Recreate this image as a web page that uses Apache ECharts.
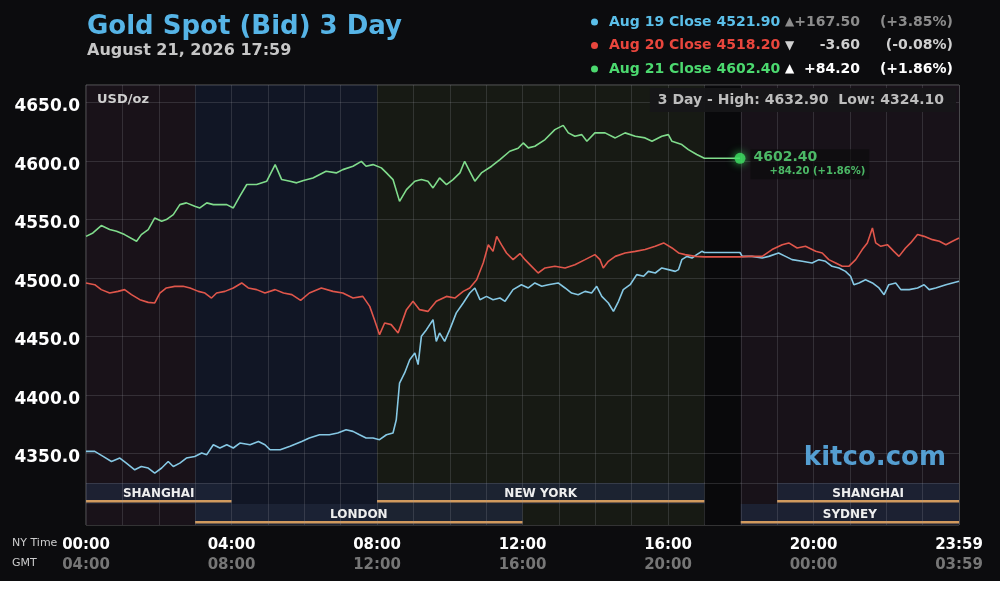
<!DOCTYPE html>
<html>
<head>
<meta charset="utf-8">
<script src="https://cdn.jsdelivr.net/npm/echarts@6/dist/echarts.min.js"></script>
<style>
html, body { margin: 0; padding: 0; background: #ffffff; }
#chart { width: 1000px; height: 581px; }
</style>
</head>
<body>
<div id="chart"></div>
<script>
// price in USD/oz, x = NY time in hours
const aug19 = [[0.00,4352.0],[0.24,4352.0],[0.47,4347.7],[0.70,4343.4],[0.93,4346.3],[1.11,4342.0],[1.34,4336.3],[1.52,4339.1],[1.71,4337.8],[1.89,4333.5],[2.08,4337.8],[2.26,4343.4],[2.40,4339.1],[2.58,4342.0],[2.76,4346.3],[2.99,4347.7],[3.18,4350.6],[3.32,4349.2],[3.50,4357.7],[3.68,4354.9],[3.87,4357.7],[4.05,4354.9],[4.23,4359.1],[4.51,4357.7],[4.74,4360.5],[4.92,4357.7],[5.06,4353.4],[5.34,4353.4],[5.61,4356.3],[5.93,4360.5],[6.14,4363.4],[6.42,4366.2],[6.69,4366.2],[6.92,4367.7],[7.15,4370.5],[7.34,4369.1],[7.52,4366.2],[7.70,4363.4],[7.89,4363.4],[8.07,4362.0],[8.26,4366.2],[8.44,4367.7],[8.53,4379.0],[8.62,4410.4],[8.76,4419.0],[8.90,4430.3],[9.04,4436.1],[9.13,4426.1],[9.22,4450.3],[9.36,4456.0],[9.54,4464.5],[9.63,4446.0],[9.72,4453.2],[9.86,4446.0],[10.00,4456.0],[10.18,4470.3],[10.37,4478.8],[10.55,4487.3],[10.69,4491.6],[10.83,4481.6],[11.01,4484.4],[11.19,4481.6],[11.38,4483.0],[11.52,4480.2],[11.74,4490.2],[11.97,4494.4],[12.16,4491.6],[12.34,4495.9],[12.53,4493.0],[12.71,4494.4],[12.98,4495.9],[13.17,4491.6],[13.35,4487.3],[13.53,4485.9],[13.72,4488.7],[13.90,4487.3],[14.04,4493.0],[14.18,4484.4],[14.36,4478.8],[14.50,4471.6],[14.64,4480.2],[14.77,4490.2],[14.96,4494.4],[15.14,4503.0],[15.33,4501.6],[15.46,4505.8],[15.65,4504.4],[15.83,4508.7],[16.01,4507.3],[16.20,4505.8],[16.29,4507.3],[16.38,4515.8],[16.52,4518.6],[16.66,4517.2],[16.79,4520.1],[16.93,4522.9],[17.00,4521.9],[17.98,4521.9],[18.00,4522.9],[18.04,4518.6],[18.31,4518.6],[18.59,4517.2],[18.77,4518.6],[19.04,4521.5],[19.23,4518.6],[19.41,4515.8],[19.69,4514.4],[19.96,4513.0],[20.15,4515.8],[20.33,4514.4],[20.51,4510.1],[20.70,4508.7],[20.88,4505.8],[21.02,4501.6],[21.11,4494.4],[21.25,4495.9],[21.43,4498.7],[21.62,4495.9],[21.80,4491.6],[21.94,4485.9],[22.07,4494.4],[22.26,4495.9],[22.40,4490.2],[22.63,4490.2],[22.86,4491.6],[23.04,4494.4],[23.18,4490.2],[23.36,4491.6],[23.64,4494.4],[23.82,4495.9],[24.00,4497.3]];

const aug20 = [[0.00,4495.9],[0.24,4494.4],[0.42,4490.2],[0.65,4487.3],[0.88,4488.7],[1.06,4490.2],[1.25,4485.9],[1.48,4481.6],[1.71,4479.3],[1.89,4478.8],[2.03,4487.3],[2.21,4491.6],[2.44,4493.0],[2.67,4493.0],[2.86,4491.6],[3.09,4488.7],[3.27,4487.3],[3.45,4483.0],[3.59,4487.3],[3.82,4488.7],[4.05,4491.6],[4.28,4495.9],[4.46,4491.6],[4.69,4490.2],[4.92,4487.3],[5.20,4490.2],[5.43,4487.3],[5.66,4485.9],[5.90,4481.0],[6.14,4487.3],[6.47,4491.6],[6.79,4488.7],[7.06,4487.3],[7.34,4483.0],[7.61,4484.4],[7.80,4475.9],[7.93,4464.5],[8.07,4451.7],[8.21,4461.7],[8.39,4460.3],[8.58,4453.2],[8.81,4473.1],[8.99,4480.2],[9.17,4473.1],[9.40,4471.6],[9.63,4480.2],[9.91,4484.4],[10.14,4483.0],[10.37,4488.7],[10.55,4491.6],[10.74,4498.7],[10.92,4513.0],[11.06,4528.6],[11.19,4522.9],[11.29,4535.7],[11.42,4528.6],[11.56,4521.5],[11.74,4515.8],[11.93,4521.0],[12.07,4515.8],[12.25,4510.1],[12.43,4504.4],[12.62,4508.7],[12.89,4510.1],[13.17,4508.7],[13.44,4511.5],[13.72,4515.8],[13.99,4520.1],[14.13,4515.8],[14.22,4508.7],[14.36,4514.4],[14.55,4518.6],[14.82,4521.5],[15.10,4522.9],[15.37,4524.4],[15.65,4527.2],[15.88,4530.1],[16.11,4525.8],[16.29,4521.5],[16.47,4520.1],[16.75,4518.6],[17.00,4518.2],[17.98,4518.2],[18.22,4518.6],[18.59,4518.6],[18.86,4524.4],[19.14,4528.6],[19.32,4530.1],[19.55,4525.8],[19.78,4527.2],[20.06,4522.9],[20.24,4521.5],[20.42,4515.8],[20.61,4513.0],[20.79,4510.1],[20.97,4510.1],[21.16,4515.8],[21.34,4524.4],[21.48,4530.1],[21.62,4542.9],[21.71,4530.1],[21.85,4527.2],[22.03,4528.6],[22.21,4522.9],[22.35,4518.6],[22.53,4525.8],[22.67,4530.1],[22.86,4537.2],[23.04,4535.7],[23.27,4532.9],[23.46,4531.5],[23.64,4528.6],[23.82,4531.5],[24.00,4534.3]];

const aug21 = [[0.00,4535.7],[0.19,4538.6],[0.42,4544.9],[0.65,4541.5],[0.84,4540.0],[1.06,4537.2],[1.39,4531.5],[1.52,4537.2],[1.71,4541.5],[1.89,4551.4],[2.08,4548.6],[2.21,4550.0],[2.40,4554.3],[2.58,4562.8],[2.76,4564.3],[2.99,4561.4],[3.13,4560.0],[3.32,4564.3],[3.50,4562.8],[3.68,4562.8],[3.87,4562.8],[4.05,4560.0],[4.23,4570.0],[4.42,4580.0],[4.69,4580.0],[4.97,4582.8],[5.20,4597.0],[5.38,4584.2],[5.61,4582.8],[5.79,4581.4],[5.98,4583.5],[6.24,4585.6],[6.60,4591.3],[6.88,4589.9],[7.06,4592.7],[7.34,4595.6],[7.57,4599.8],[7.70,4595.6],[7.89,4597.0],[8.12,4594.2],[8.26,4589.9],[8.44,4584.2],[8.62,4565.6],[8.81,4575.6],[9.04,4582.8],[9.22,4584.2],[9.40,4582.8],[9.54,4577.1],[9.72,4585.6],[9.91,4579.9],[10.09,4584.2],[10.28,4589.9],[10.41,4599.8],[10.55,4591.3],[10.69,4582.8],[10.87,4589.9],[11.15,4595.6],[11.38,4601.3],[11.65,4608.4],[11.88,4611.0],[12.02,4615.5],[12.16,4611.3],[12.34,4612.7],[12.62,4618.4],[12.89,4626.9],[13.12,4630.5],[13.26,4624.1],[13.44,4621.2],[13.63,4622.6],[13.77,4616.9],[13.99,4624.1],[14.27,4624.1],[14.55,4619.8],[14.82,4624.1],[15.10,4621.2],[15.37,4619.8],[15.56,4616.9],[15.83,4621.2],[16.01,4622.6],[16.11,4616.9],[16.38,4614.1],[16.56,4609.8],[16.79,4605.6],[17.00,4602.4],[17.98,4602.4]];

const seriesNames = ['Aug 19', 'Aug 20', 'Aug 21'];
const closes = [4521.90, 4518.20, 4602.40];
const changes = [167.50, -3.60, 84.20];
const changePcts = [3.85, -0.08, 1.86];
const threeDayHigh = 4632.90;
const threeDayLow = 4324.10;

const hourTicks = [0, 4, 8, 12, 16, 20, 24];
const nyLabels = ['00:00', '04:00', '08:00', '12:00', '16:00', '20:00', '23:59'];
const gmtLabels = ['04:00', '08:00', '12:00', '16:00', '20:00', '00:00', '03:59'];

// trading sessions (row 0 = upper strip, row 1 = lower strip)
const sessionNames = ['SHANGHAI', 'NEW YORK', 'SHANGHAI', 'LONDON', 'SYDNEY'];
const sessionStart = [0, 8, 19, 3, 18];
const sessionEnd = [4, 17, 24, 12, 24];
const sessionRow = [0, 0, 0, 1, 1];

// background bands
const bandStart = [0, 3, 8, 17, 18];
const bandEnd = [3, 8, 17, 18, 24];

const FONT = 'DejaVu Sans';
const lineColors = ['#86c8e4', '#e0564b', '#80dc8c'];
const dotColors = ['#5bbfe9', '#e9463d', '#4cd96f'];
const bandColors = ['#191219', '#111625', '#171a14', '#09090b', '#181219'];
const gridColor = 'rgba(150,150,160,0.22)';

function signed(v) {
    return (v >= 0 ? '+' : '') + v.toFixed(2);
}

let chart = echarts.init(document.getElementById('chart'));

let bandAreas = bandStart.map(function (s, i) {
    return [{ xAxis: s, itemStyle: { color: bandColors[i] } }, { xAxis: bandEnd[i] }];
});

let legendRich = {};
[0, 1, 2].forEach(function (i) {
    let other = ['#8c8c8c', '#d0d0d0', '#ffffff'][i];
    legendRich['n' + i] = { color: dotColors[i], fontFamily: FONT, fontWeight: 'bold', fontSize: 14, width: 176 };
    legendRich['a' + i] = { color: other, fontFamily: FONT, fontSize: 12, width: 14 };
    legendRich['c' + i] = { color: other, fontFamily: FONT, fontWeight: 'bold', fontSize: 14, width: 61, align: 'right' };
    legendRich['p' + i] = { color: other, fontFamily: FONT, fontWeight: 'bold', fontSize: 14, width: 93, align: 'right' };
});

let lineSeries = [aug19, aug20, aug21].map(function (d, i) {
    let s = {
        name: seriesNames[i],
        type: 'line',
        xAxisIndex: 0,
        yAxisIndex: 0,
        data: d,
        showSymbol: false,
        symbol: 'circle',
        z: 5,
        itemStyle: { color: dotColors[i] },
        lineStyle: { color: lineColors[i], width: 1.6 }
    };
    if (i == 0) {
        s.markArea = { silent: true, data: bandAreas };
    }
    return s;
});

let last = aug21[aug21.length - 1];

chart.setOption({
    backgroundColor: '#0c0c0e',
    animation: false,
    title: {
        text: 'Gold Spot (Bid) 3 Day',
        subtext: 'August 21, 2026 17:59',
        left: 82,
        top: 9,
        itemGap: 3,
        textStyle: { color: '#56b4e6', fontFamily: FONT, fontWeight: 'bold', fontSize: 26 },
        subtextStyle: { color: '#c6c6c6', fontFamily: FONT, fontWeight: 'bold', fontSize: 16 }
    },
    legend: {
        data: seriesNames,
        orient: 'vertical',
        left: 586,
        top: 10,
        icon: 'circle',
        itemWidth: 7,
        itemHeight: 7,
        itemGap: 9.5,
        selectedMode: false,
        formatter: function (name) {
            let i = seriesNames.indexOf(name);
            return '{n' + i + '|' + name + ' Close ' + closes[i].toFixed(2) + '}' +
                '{a' + i + '|' + (changes[i] >= 0 ? '▲' : '▼') + '}' +
                '{c' + i + '|' + signed(changes[i]) + '}' +
                '{p' + i + '|(' + signed(changePcts[i]) + '%)}';
        },
        textStyle: { padding: [0, 0, 0, 6], rich: legendRich }
    },
    grid: [
        { left: 86, right: 41, top: 85, height: 398, show: true, borderColor: '#5a5a5a', borderWidth: 1 },
        { left: 86, right: 41, top: 483, height: 42, show: true, borderColor: '#5a5a5a', borderWidth: 1 }
    ],
    xAxis: [
        {
            gridIndex: 0, type: 'value', min: 0, max: 24, interval: 4, z: 3,
            axisLabel: { show: false }, axisTick: { show: false }, axisLine: { show: false },
            splitLine: { show: true, lineStyle: { color: gridColor } },
            minorTick: { show: false, splitNumber: 4 },
            minorSplitLine: { show: true, lineStyle: { color: gridColor } }
        },
        {
            gridIndex: 1, type: 'value', min: 0, max: 24, interval: 4, z: 3,
            axisTick: { show: false }, axisLine: { show: false },
            splitLine: { show: true, lineStyle: { color: gridColor } },
            minorTick: { show: false, splitNumber: 4 },
            minorSplitLine: { show: true, lineStyle: { color: gridColor } },
            axisLabel: {
                margin: 10,
                showMinLabel: true,
                showMaxLabel: true,
                formatter: function (v) {
                    let i = hourTicks.indexOf(v);
                    return '{ny|' + nyLabels[i] + '}\n{gmt|' + gmtLabels[i] + '}';
                },
                rich: {
                    ny: { color: '#ffffff', fontFamily: FONT, fontWeight: 'bold', fontSize: 15, lineHeight: 20 },
                    gmt: { color: '#767676', fontFamily: FONT, fontWeight: 'bold', fontSize: 15, lineHeight: 20 }
                }
            }
        }
    ],
    yAxis: [
        {
            gridIndex: 0, type: 'value', min: 4325, max: 4665, splitNumber: 7, z: 3,
            axisLine: { show: false }, axisTick: { show: false },
            splitLine: { show: true, lineStyle: { color: gridColor } },
            axisLabel: {
                showMinLabel: false,
                showMaxLabel: false,
                margin: 6,
                verticalAlign: 'top',
                lineHeight: 8,
                color: '#ffffff',
                fontFamily: FONT,
                fontWeight: 'bold',
                fontSize: 17,
                formatter: function (v) { return v.toFixed(1); }
            }
        },
        { gridIndex: 1, type: 'value', min: 0, max: 2, inverse: true, show: false }
    ],
    graphic: [
        { type: 'text', z: 100, left: 97, top: 93, style: { text: 'USD/oz', fill: '#cfcfcf', font: 'bold 13px "DejaVu Sans"' } },
        {
            type: 'text', z: 100, right: 44, top: 88,
            style: {
                text: '3 Day - High: ' + threeDayHigh.toFixed(2) + '  Low: ' + threeDayLow.toFixed(2),
                fill: '#bdbdbd', font: 'bold 14px "DejaVu Sans"',
                backgroundColor: 'rgba(22,22,24,0.95)', padding: [5, 12, 5, 8]
            }
        },
        { type: 'text', z: 100, right: 54, top: 445, style: { text: 'kitco.com', fill: 'rgba(90,170,225,0.92)', font: 'bold 26px "DejaVu Sans"' } },
        { type: 'text', z: 100, left: 12, top: 538, style: { text: 'NY Time', fill: '#cccccc', font: '11px "DejaVu Sans"' } },
        { type: 'text', z: 100, left: 12, top: 558, style: { text: 'GMT', fill: '#cccccc', font: '11px "DejaVu Sans"' } }
    ],
    series: lineSeries.concat([
        {
            name: 'last',
            type: 'scatter',
            xAxisIndex: 0,
            yAxisIndex: 0,
            z: 6,
            data: [last],
            symbolSize: 11,
            itemStyle: { color: '#3ee063', shadowBlur: 8, shadowColor: '#3ee063' },
            label: {
                show: true,
                position: 'right',
                distance: 5,
                offset: [0, 6],
                backgroundColor: 'rgba(12,12,12,0.85)',
                padding: [1, 4, 2, 3],
                formatter: '{v|' + last[1].toFixed(2) + '}\n{d|' + signed(changes[2]) + ' (' + signed(changePcts[2]) + '%)}',
                rich: {
                    v: { color: '#5be37c', fontFamily: FONT, fontWeight: 'bold', fontSize: 14, lineHeight: 15 },
                    d: { color: '#5be37c', fontFamily: FONT, fontWeight: 'bold', fontSize: 10, lineHeight: 12, padding: [0, 0, 0, 16] }
                }
            }
        },
        {
            name: 'sessions',
            type: 'custom',
            xAxisIndex: 1,
            yAxisIndex: 1,
            z: 2,
            silent: true,
            data: sessionStart.map(function (s, i) { return [s, sessionEnd[i], sessionRow[i]]; }),
            encode: { x: [0, 1], y: 2 },
            markArea: { silent: true, data: bandAreas },
            renderItem: function (params, api) {
                let p0 = api.coord([api.value(0), api.value(2)]);
                let p1 = api.coord([api.value(1), api.value(2) + 1]);
                let w = p1[0] - p0[0];
                return {
                    type: 'group',
                    children: [
                        { type: 'rect', shape: { x: p0[0], y: p0[1], width: w, height: p1[1] - p0[1] }, style: { fill: 'rgba(30,37,56,0.8)' } },
                        { type: 'rect', shape: { x: p0[0], y: p1[1] - 4, width: w, height: 2.5 }, style: { fill: '#d19a5e' } },
                        {
                            type: 'text',
                            style: {
                                text: sessionNames[params.dataIndex],
                                x: p0[0] + w / 2, y: p1[1] - 4,
                                align: 'center', verticalAlign: 'bottom',
                                fill: '#eeeeee', font: 'bold 12px "DejaVu Sans"'
                            }
                        }
                    ]
                };
            }
        }
    ])
});
</script>
</body>
</html>
